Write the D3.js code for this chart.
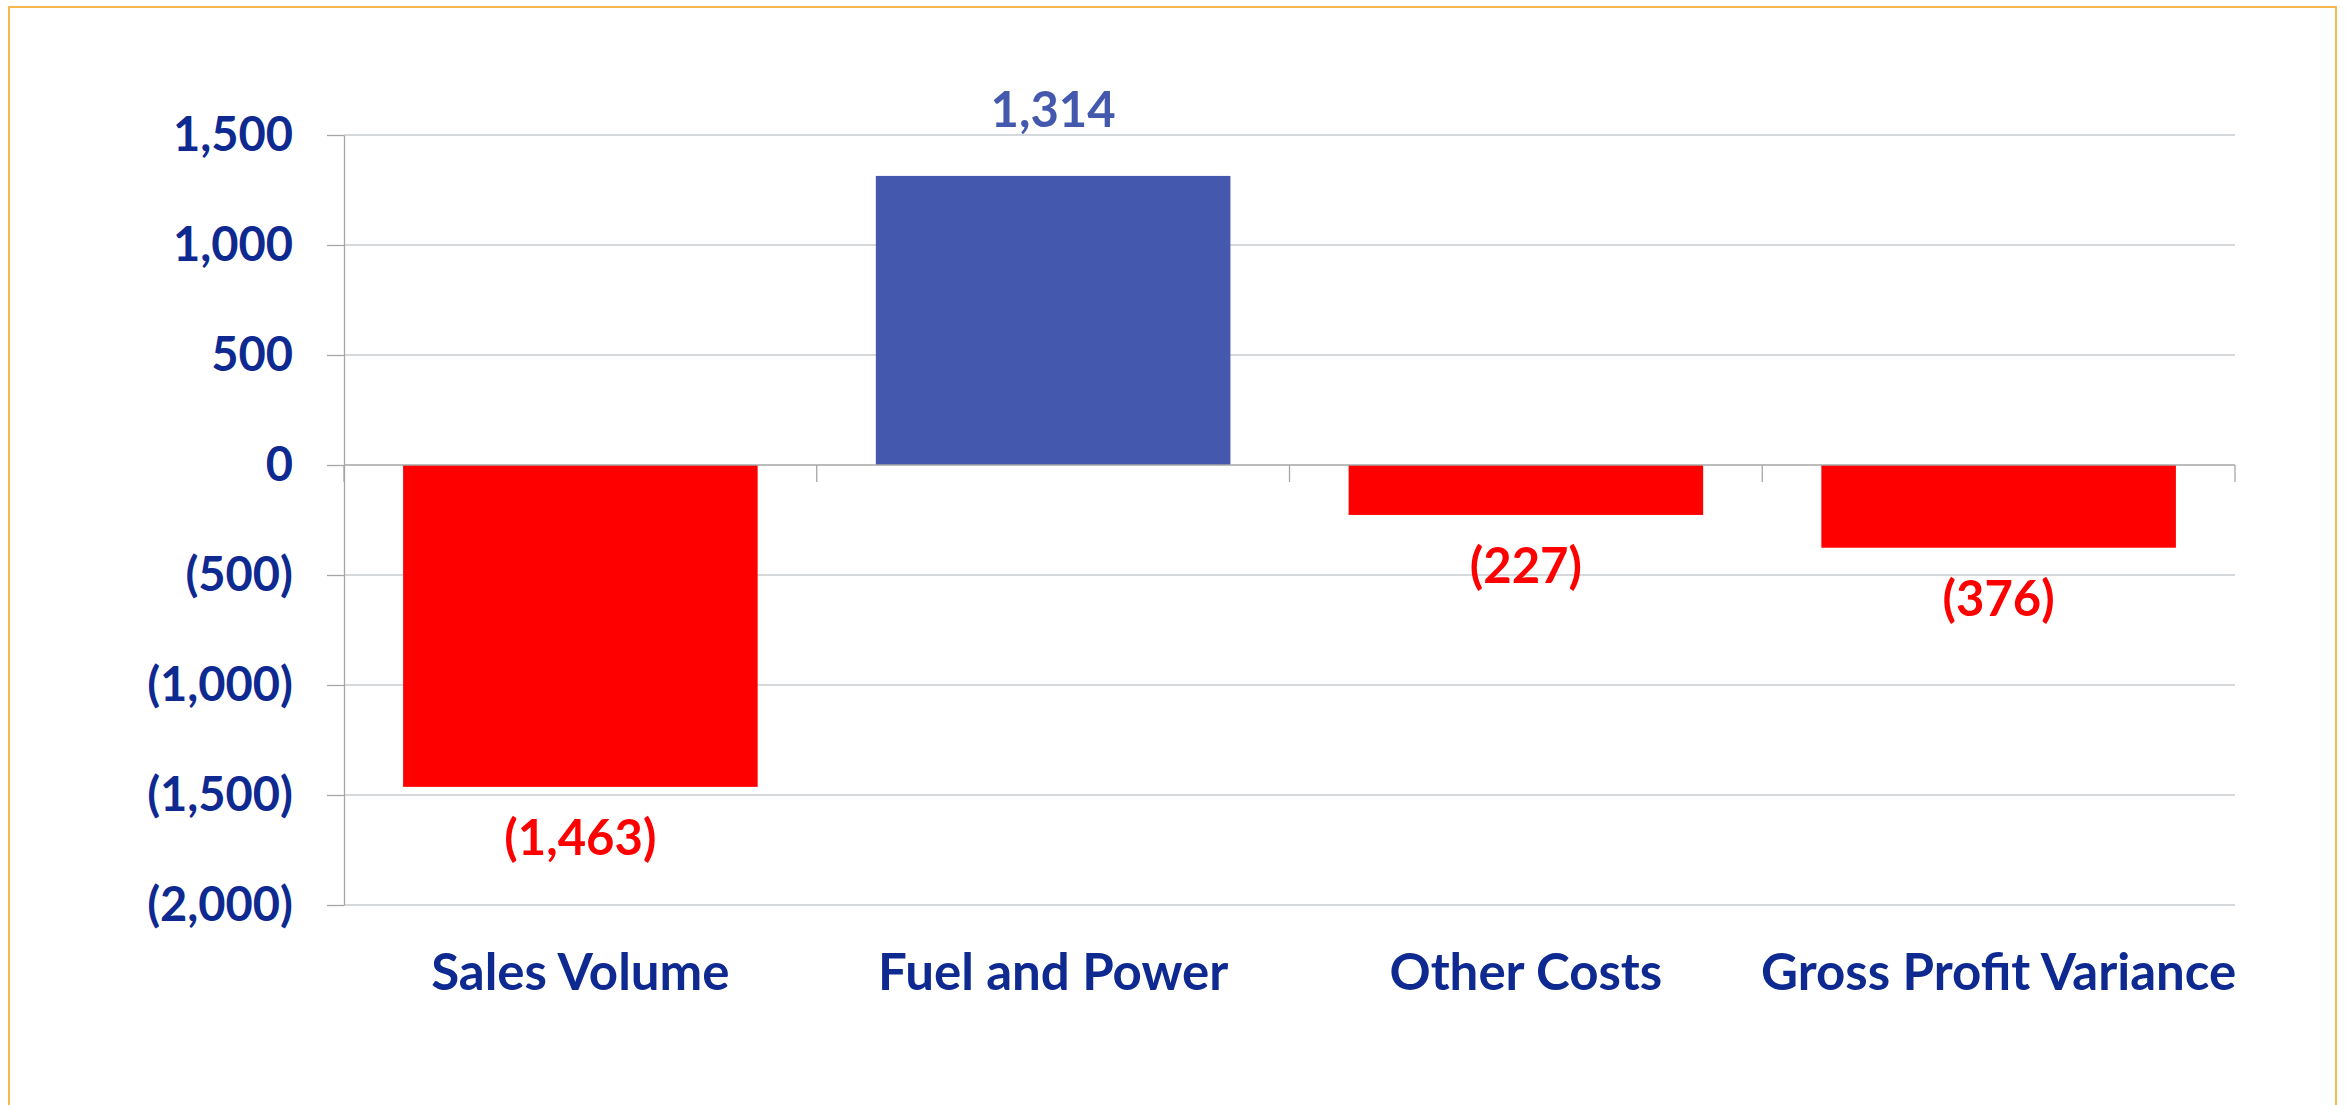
<!DOCTYPE html>
<html>
<head>
<meta charset="utf-8">
<script src="https://d3js.org/d3.v7.min.js"></script>
<style>
  body { margin: 0; background: white; }
  text { font-family: Lato, "Open Sans", sans-serif; font-weight: bold; }
</style>
</head>
<body>
<div id="chart"></div>
<script>
var margin = { top: 135, right: 113, bottom: 200, left: 344 };
let width = 2348 - margin.left - margin.right;
let height = 1105 - margin.top - margin.bottom;

let categories = ["Sales Volume", "Fuel and Power", "Other Costs", "Gross Profit Variance"];
let values = [-1463, 1314, -227, -376];
let yTicks = [1500, 1000, 500, 0, -500, -1000, -1500, -2000];

let navy = "#0e2a91";
let blue = "#4459ad";
let red = "#ff0000";

var svg = d3
  .select("#chart")
  .append("svg")
  .attr("width", 2348)
  .attr("height", 1105)
  .style("background-color", "white");

// orange frame
svg
  .append("rect")
  .attr("x", 9)
  .attr("y", 7)
  .attr("width", 2327)
  .attr("height", 1110)
  .attr("fill", "none")
  .attr("stroke", "#f8b84e")
  .attr("stroke-width", 2);

let g = svg
  .append("g")
  .attr("transform", "translate(" + margin.left + "," + margin.top + ")");

let fmt = (d) => (d < 0 ? "(" + d3.format(",")(-d) + ")" : d3.format(",")(d));

// scales
let x = d3
  .scaleBand()
  .domain(categories)
  .range([0, width])
  .paddingInner(0.25)
  .paddingOuter(0.125);

let y = d3.scaleLinear().domain([-2000, 1500]).range([height, 0]);

// grid lines
g.selectAll(".grid")
  .data(yTicks.filter((d) => d !== 0))
  .join("line")
  .attr("class", "grid")
  .attr("x1", 0)
  .attr("x2", width)
  .attr("y1", (d) => y(d))
  .attr("y2", (d) => y(d))
  .attr("stroke", "#c9cdd1")
  .attr("stroke-width", 1.6);

// Y axis
let yAxis = g
  .append("g")
  .call(d3.axisLeft(y).tickValues(yTicks).tickFormat(fmt).tickSize(17).tickPadding(34).tickSizeOuter(0));
yAxis.select(".domain").attr("stroke", "#a6a6a6").attr("stroke-width", 1.3);
yAxis.selectAll(".tick line").attr("stroke", "#a6a6a6").attr("stroke-width", 1.3);
yAxis
  .selectAll(".tick text")
  .attr("fill", navy)
  .style("font-size", "47px")
  .style("font-family", "Lato, sans-serif")
  .style("font-weight", "bold");

// Bars
g.selectAll(".bar")
  .data(values)
  .join("rect")
  .attr("class", "bar")
  .attr("x", (d, i) => x(categories[i]))
  .attr("width", x.bandwidth())
  .attr("y", (d) => y(Math.max(0, d)))
  .attr("height", (d) => Math.abs(y(d) - y(0)))
  .attr("fill", (d) => (d < 0 ? red : blue));

// zero line with category tick marks
g.append("line")
  .attr("x1", 0)
  .attr("x2", width)
  .attr("y1", y(0))
  .attr("y2", y(0))
  .attr("stroke", "#a6a6a6")
  .attr("stroke-width", 1.6);

g.selectAll(".xtick")
  .data(d3.range(categories.length + 1))
  .join("line")
  .attr("class", "xtick")
  .attr("x1", (i) => x.range()[0] + i * x.step())
  .attr("x2", (i) => x.range()[0] + i * x.step())
  .attr("y1", y(0))
  .attr("y2", y(0) + 17)
  .attr("stroke", "#a6a6a6")
  .attr("stroke-width", 1.3);

// Value labels
g.selectAll(".label")
  .data(values)
  .join("text")
  .attr("class", "label")
  .attr("x", (d, i) => x(categories[i]) + x.bandwidth() / 2)
  .attr("y", (d) => (d < 0 ? y(d) + 68 : y(d) - 49))
  .attr("text-anchor", "middle")
  .attr("fill", (d) => (d < 0 ? red : blue))
  .style("font-size", "49px")
  .text(fmt);

// Category labels
g.selectAll(".cat")
  .data(categories)
  .join("text")
  .attr("class", "cat")
  .attr("x", (d) => x(d) + x.bandwidth() / 2)
  .attr("y", 990 - margin.top)
  .attr("text-anchor", "middle")
  .attr("fill", navy)
  .style("font-size", "51px")
  .text((d) => d);
</script>
</body>
</html>
